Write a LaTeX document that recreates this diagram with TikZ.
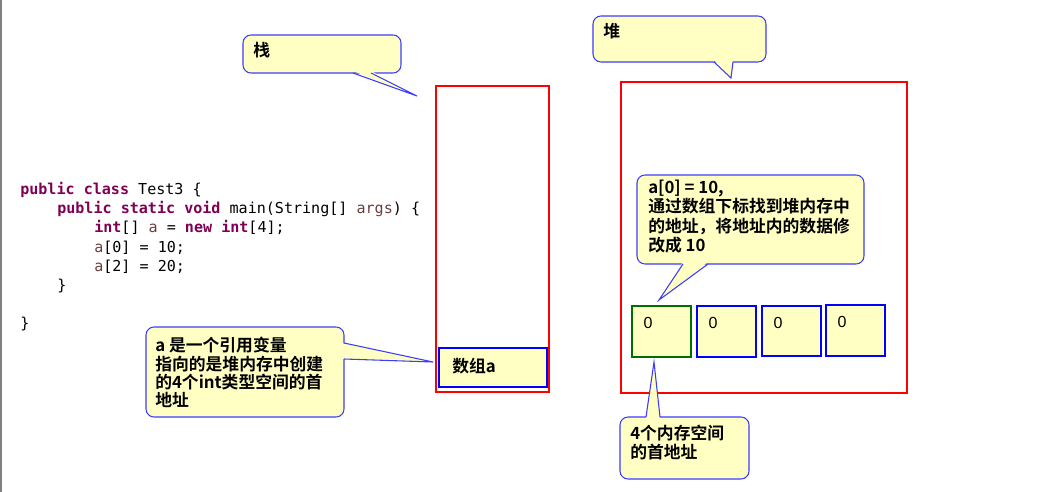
\documentclass[tikz,border=0pt]{standalone}
\usepackage{fontspec}
\setmonofont{DejaVu Sans Mono}
\newfontfamily\cjk{Noto Sans CJK SC Bold}
\newfontfamily\arialf{Liberation Sans}
\definecolor{cyel}{RGB}{255,255,196}
\definecolor{cblue}{RGB}{60,60,255}
\definecolor{kwc}{RGB}{127,0,85}
\definecolor{varc}{RGB}{106,62,62}
\definecolor{cgreen}{RGB}{0,110,0}
\newcommand\kw[1]{\textcolor{kwc}{\bfseries #1}}
\newcommand\vr[1]{\textcolor{varc}{#1}}
\begin{document}
\begin{tikzpicture}[x=0.75pt,y=-0.75pt,
  callout/.style={draw=cblue,fill=cyel,line width=0.8pt,rounded corners=6pt},
  tailfill/.style={fill=cyel},
  tailline/.style={draw=cblue,line width=0.8pt,line join=miter},
  redbox/.style={draw=red,line width=1.5pt},
  cell/.style={fill=cyel,line width=1.5pt},
  code/.style={anchor=base west,inner sep=0pt,font=\ttfamily\fontsize{11.3}{13}\selectfont},
  ctext/.style={anchor=north west,inner sep=0pt,align=left,font=\cjk\fontsize{12.6}{14.4}\selectfont},
  zero/.style={anchor=center,inner sep=0pt,font=\arialf\fontsize{12}{14}\selectfont}]
\useasboundingbox (0,0) rectangle (1058,492);
\fill[white] (0,0) rectangle (1058,492);
\draw[gray,line width=1.5pt] (1,0) -- (1,492);

% code
\node[code] (c1) at (20,195) {\kw{public} \kw{class} Test3 \{};
\node[code] (c2) at (57,214) {\kw{public} \kw{static} \kw{void} main(String[] \vr{args}) \{};
\node[code] (c3) at (94,233) {\kw{int}[] \vr{a} = \kw{new} \kw{int}[4];};
\node[code] (c4) at (94,252) {\vr{a}[0] = 10;};
\node[code] (c5) at (94,271) {\vr{a}[2] = 20;};
\node[code] (c6) at (57,290) {\}};
\node[code] (c7) at (20,328) {\}};

% stack
\draw[redbox] (436,86) rectangle (549,392);
\draw[draw=blue,cell] (439,348) rectangle (547,387);
\node[ctext,anchor=west] (arr) at (452,366) {数组a};

% heap
\draw[redbox] (621,82) rectangle (907,393);
\draw[draw=cgreen,cell] (632,306) rectangle (691,357);
\draw[draw=blue,cell] (697,306) rectangle (756,357);
\draw[draw=blue,cell] (762,306) rectangle (821,356);
\draw[draw=blue,cell] (826,305) rectangle (885,356);
\node[zero] (z1) at (648,323) {0};
\node[zero] (z2) at (713,323) {0};
\node[zero] (z3) at (778,323) {0};
\node[zero] (z4) at (842,322) {0};

% callout: stack
\path[callout] (243,35) rectangle (401,73);
\fill[tailfill] (353,71) -- (417,96) -- (371,71) -- cycle;
\draw[tailline] (353,73) -- (417,96) -- (371,73);
\node[ctext] (stk) at (253,42) {栈};

% callout: heap
\path[callout] (593,16) rectangle (766,62);
\fill[tailfill] (714,60) -- (731,78) -- (733,60) -- cycle;
\draw[tailline] (714,62) -- (731,78) -- (733,62);
\node[ctext] (hp) at (603,23) {堆};

% callout: a is reference
\path[callout] (146,327) rectangle (344,417);
\fill[tailfill] (342,343) -- (433,362) -- (342,359) -- cycle;
\draw[tailline] (344,343) -- (433,362) -- (344,359);
\node[ctext,font=\cjk\fontsize{12.6}{13.8}\selectfont] (ref) at (155,337) {a 是一个引用变量\\指向的是堆内存中创建\\的4个int类型空间的首\\地址};

% callout: a[0]=10
\path[callout] (637,175) rectangle (864,264);
\fill[tailfill] (683,262) -- (659,300) -- (708,262) -- cycle;
\draw[tailline] (683,264) -- (659,300) -- (708,264);
\node[ctext] (set) at (648,180) {a[0] = 10,\\通过数组下标找到堆内存中\\的地址，将地址内的数据修\\改成 10};

% callout: first address
\path[callout] (620,417) rectangle (749,479);
\fill[tailfill] (646,419) -- (654,362) -- (660,419) -- cycle;
\draw[tailline] (646,417) -- (654,362) -- (660,417);
\node[ctext] (first) at (630,425) {4个内存空间\\的首地址};
\end{tikzpicture}
\end{document}
